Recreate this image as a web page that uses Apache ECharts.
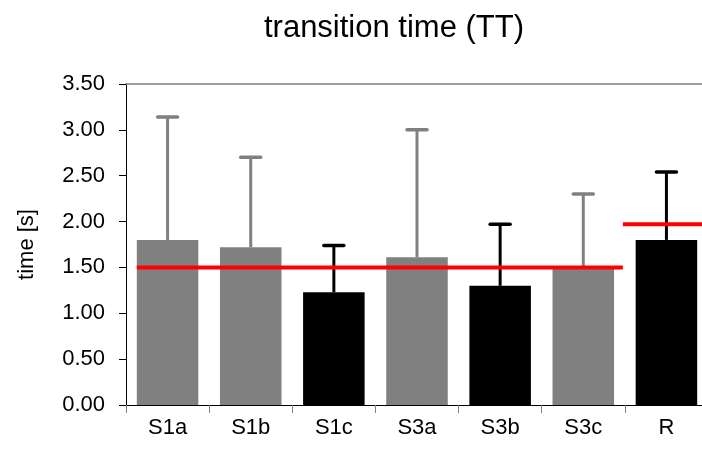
<!DOCTYPE html>
<html>
<head>
<meta charset="utf-8">
<script src="https://cdn.jsdelivr.net/npm/echarts@6/dist/echarts.min.js"></script>
<style>
  html, body { margin: 0; padding: 0; background: #fff; overflow: hidden; }
  #chart { width: 709px; height: 458px; }
</style>
</head>
<body>
<div id="chart"></div>
<script>
// Conditions and mean transition times with their standard deviations
const categories = ['S1a', 'S1b', 'S1c', 'S3a', 'S3b', 'S3c', 'R'];
const meanTime = [1.80, 1.72, 1.23, 1.61, 1.30, 1.50, 1.80];
const sdTime = [1.34, 0.98, 0.51, 1.39, 0.67, 0.80, 0.74];
// gray = first group of conditions, black = second group
const barGroup = ['gray', 'gray', 'black', 'gray', 'black', 'gray', 'black'];
const yTicks = [0, 0.5, 1, 1.5, 2, 2.5, 3, 3.5];
// reference levels drawn as red segments across a range of conditions
const refFrom = ['S1a', 'R'];
const refTo = ['S3c', 'R'];
const refValue = [1.50, 1.97];

const groupColor = { gray: '#808080', black: '#000000' };
const FONT = '"Liberation Sans", Arial, sans-serif';

const chart = echarts.init(document.getElementById('chart'));

const barData = meanTime.map((v, i) => ({
  value: v,
  itemStyle: { color: groupColor[barGroup[i]] }
}));

const errData = meanTime.map((v, i) => [i, v, v + sdTime[i]]);

const refData = refValue.map((v, i) => [categories.indexOf(refFrom[i]), categories.indexOf(refTo[i]), v, i]);

chart.setOption({
  animation: false,
  title: {
    text: 'transition time (TT)',
    left: 389,
    textAlign: 'center',
    top: 8,
    textStyle: { fontFamily: FONT, fontSize: 31, fontWeight: 'normal', color: '#000' }
  },
  grid: { left: 126, right: 1, top: 84, bottom: 53, containLabel: false },
  xAxis: [{
    type: 'category',
    data: categories,
    boundaryGap: true,
    axisLine: { lineStyle: { color: '#000', width: 1 } },
    axisTick: { show: true, length: 8, inside: false, lineStyle: { color: '#808080' } },
    axisLabel: { fontFamily: FONT, fontSize: 22, color: '#000', margin: 12 }
  }, {
    type: 'category',
    position: 'top',
    data: categories,
    axisLine: { show: true, onZero: false, lineStyle: { color: '#808080', width: 1.5 } },
    axisTick: { show: false },
    axisLabel: { show: false }
  }],
  yAxis: {
    type: 'value',
    min: 0,
    max: 3.5,
    interval: 0.5,
    name: 'time [s]',
    nameLocation: 'middle',
    nameGap: 88,
    nameTextStyle: { fontFamily: FONT, fontSize: 22, color: '#000' },
    axisLine: { show: true, lineStyle: { color: '#000', width: 1 } },
    axisTick: { show: true, length: 7, inside: false, lineStyle: { color: '#000' } },
    splitLine: { show: false },
    axisLabel: {
      fontFamily: FONT, fontSize: 22, color: '#000', margin: 21,
      formatter: v => yTicks.includes(v) ? v.toFixed(2) : ''
    }
  },
  series: [{
    type: 'bar',
    data: barData,
    barWidth: '74%',
    z: 2
  }, {
    type: 'custom',
    z: 3,
    data: errData,
    renderItem: (params, api) => {
      const i = api.value(0);
      const base = api.coord([i, api.value(1)]);
      const top = api.coord([i, api.value(2)]);
      const color = groupColor[barGroup[i]];
      const cap = 10;
      const style = { stroke: color, lineWidth: 3, fill: null };
      return {
        type: 'group',
        children: [
          { type: 'line', shape: { x1: base[0], y1: base[1], x2: top[0], y2: top[1] }, style },
          { type: 'line', shape: { x1: top[0] - cap, y1: top[1], x2: top[0] + cap, y2: top[1] }, style: { stroke: color, lineWidth: 3.5, lineCap: 'round' } }
        ]
      };
    }
  }, {
    type: 'custom',
    z: 4,
    data: refData,
    renderItem: (params, api) => {
      const i0 = api.value(0), i1 = api.value(1), v = api.value(2), k = api.value(3);
      const band = api.size([1, 0])[0];
      const p0 = api.coord([i0, v]);
      const p1 = api.coord([i1, v]);
      // first segment starts at the bar edge, others at the band edge
      const x1 = k === 0 ? p0[0] - band * 0.37 : p0[0] - band / 2 - 2;
      const x2 = p1[0] + band / 2 - 2;
      return {
        type: 'line',
        shape: { x1, y1: p0[1], x2, y2: p0[1] },
        style: { stroke: '#ff0000', lineWidth: 4 }
      };
    }
  }]
});
</script>
</body>
</html>
